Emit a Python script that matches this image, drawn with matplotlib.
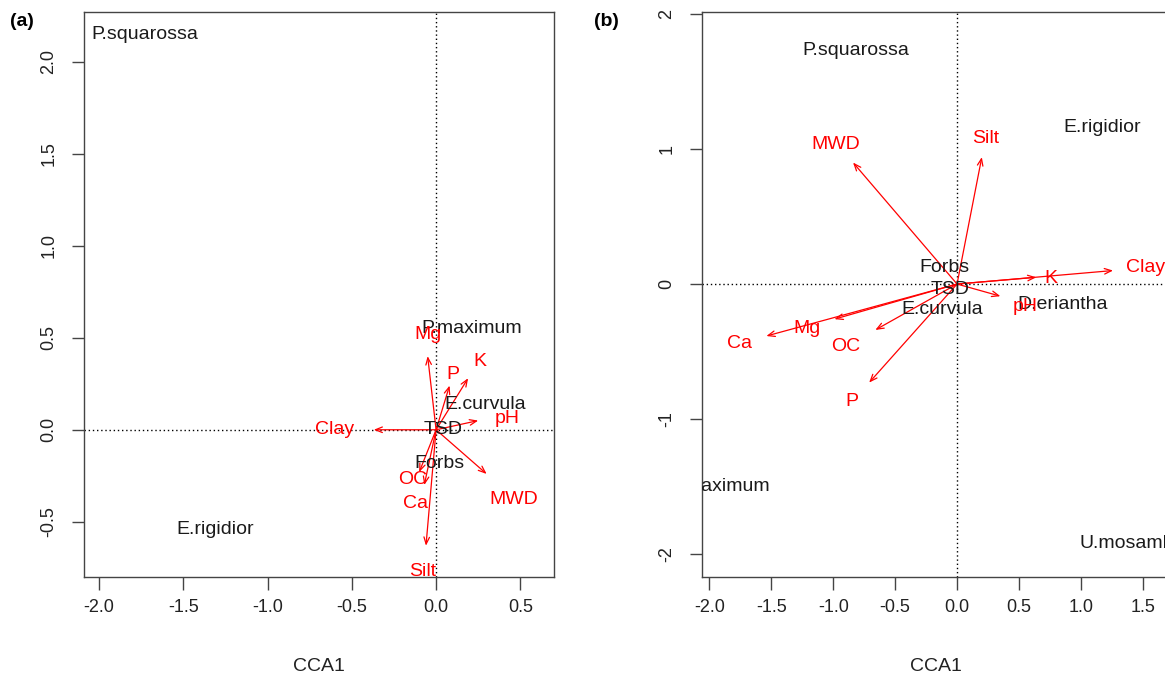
import matplotlib
matplotlib.use("Agg")
import matplotlib.pyplot as plt

plt.rcParams['font.family'] = ['Liberation Sans', 'DejaVu Sans']
plt.rcParams['axes.unicode_minus'] = False

# ---- panel (a) ----
a_species = ['P.squarossa', 'E.rigidior', 'P.maximum', 'E.curvula', 'TSD', 'Forbs']
a_sp_x = [-1.73, -1.31, 0.21, 0.29, 0.04, 0.02]
a_sp_y = [2.15, -0.54, 0.55, 0.14, 0.0, -0.185]

a_env = ['Mg', 'P', 'K', 'pH', 'Clay', 'MWD', 'OC', 'Ca', 'Silt']
a_arr_x = [-0.05, 0.08, 0.19, 0.25, -0.37, 0.30, -0.10, -0.07, -0.06]
a_arr_y = [0.40, 0.24, 0.28, 0.05, 0.0, -0.24, -0.23, -0.30, -0.63]
a_lab_x = [-0.05, 0.10, 0.26, 0.42, -0.60, 0.46, -0.14, -0.12, -0.077]
a_lab_y = [0.52, 0.30, 0.37, 0.06, 0.0, -0.38, -0.27, -0.40, -0.77]

a_xticks = [-2.0, -1.5, -1.0, -0.5, 0.0, 0.5]
a_yticks = [-0.5, 0.0, 0.5, 1.0, 1.5, 2.0]

# ---- panel (b) ----
b_species = ['P.squarossa', 'E.rigidior', 'Forbs', 'TSD', 'E.curvula', 'D.eriantha',
             'P.maximum', 'U.mosambicensis']
b_sp_x = [-0.82, 1.17, -0.10, -0.056, -0.12, 0.855, -1.92, 1.61]
b_sp_y = [1.73, 1.16, 0.12, -0.044, -0.19, -0.155, -1.50, -1.92]

b_env = ['MWD', 'Silt', 'Clay', 'K', 'pH', 'Mg', 'Ca', 'OC', 'P']
b_arr_x = [-0.84, 0.20, 1.26, 0.64, 0.35, -0.99, -1.54, -0.66, -0.71]
b_arr_y = [0.90, 0.94, 0.10, 0.05, -0.09, -0.26, -0.385, -0.34, -0.73]
b_lab_x = [-0.98, 0.23, 1.52, 0.76, 0.55, -1.21, -1.76, -0.90, -0.85]
b_lab_y = [1.03, 1.08, 0.12, 0.04, -0.17, -0.33, -0.44, -0.46, -0.87]

b_xticks = [-2.0, -1.5, -1.0, -0.5, 0.0, 0.5, 1.0, 1.5]
b_yticks = [-2, -1, 0, 1, 2]


def biplot(ax, sp, spx, spy, env, ax_, ay_, lx, ly, xt, yt, xfmt):
    ax.axhline(0, color='black', ls=(0, (1, 2)), lw=1, zorder=1)
    ax.axvline(0, color='black', ls=(0, (1, 2)), lw=1, zorder=1)
    for name, x, y in zip(sp, spx, spy):
        ax.text(x, y, name, ha='center', va='center', fontsize=14,
                color='#1a1a1a', clip_on=True, zorder=3)
    for name, x, y, tx, ty in zip(env, ax_, ay_, lx, ly):
        ax.annotate('', xy=(x, y), xytext=(0, 0),
                    arrowprops=dict(arrowstyle='->,head_length=0.5,head_width=0.2',
                                    color='red', lw=0.9, shrinkA=0, shrinkB=0),
                    zorder=2)
        ax.text(tx, ty, name, ha='center', va='center', fontsize=14,
                color='red', clip_on=True, zorder=3)
    ax.set_xticks(xt)
    ax.set_yticks(yt)
    ax.set_xticklabels([xfmt(v) for v in xt])
    ax.set_yticklabels([f'{v:.1f}' if isinstance(v, float) else str(v) for v in yt],
                       rotation=90, va='center')
    ax.tick_params(direction='out', length=9, width=1, color='#444444',
                   labelsize=13, labelcolor='#222222')
    ax.tick_params(axis='x', pad=7)
    ax.tick_params(axis='y', pad=10)
    for s in ax.spines.values():
        s.set_color('#444444')
        s.set_linewidth(1)
    ax.set_xlabel('CCA1', fontsize=14, labelpad=30, color='#222222')


fig = plt.figure(figsize=(11.65, 6.84), dpi=100)

ax1 = fig.add_axes([84 / 1165, 1 - 577 / 684, 470 / 1165, 565 / 684])
biplot(ax1, a_species, a_sp_x, a_sp_y, a_env, a_arr_x, a_arr_y, a_lab_x, a_lab_y,
       a_xticks, a_yticks, lambda v: f'{v:.1f}')
ax1.set_xlim(-2.09, 0.70)
ax1.set_ylim(-0.80, 2.27)

ax2 = fig.add_axes([702 / 1165, 1 - 577 / 684, 468 / 1165, 565 / 684])
biplot(ax2, b_species, b_sp_x, b_sp_y, b_env, b_arr_x, b_arr_y, b_lab_x, b_lab_y,
       b_xticks, b_yticks, lambda v: f'{v:.1f}')
ax2.set_xlim(-2.06, 1.72)
ax2.set_ylim(-2.17, 2.015)

fig.text(10 / 1165, 1 - 22 / 684, '(a)', fontsize=14, fontweight='bold', va='center')
fig.text(594 / 1165, 1 - 22 / 684, '(b)', fontsize=14, fontweight='bold', va='center')

fig.savefig('out.png', dpi=100)
